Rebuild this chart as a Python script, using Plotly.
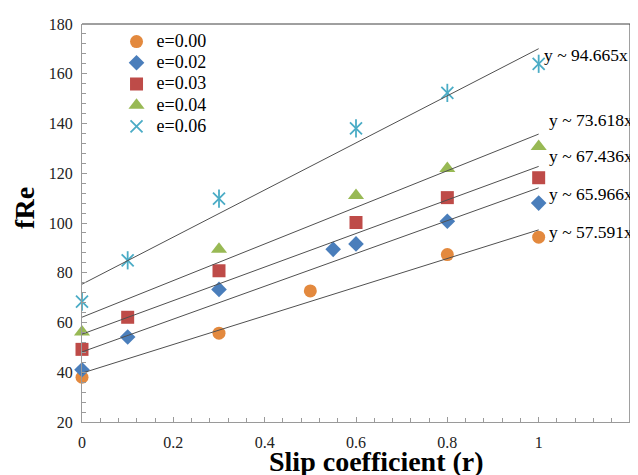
import numpy as np
import plotly.graph_objects as go

# ---- data ----
series_names = ["e=0.00", "e=0.02", "e=0.03", "e=0.04", "e=0.06"]
x_e000 = [0.0, 0.3, 0.5, 0.8, 1.0]
y_e000 = [38.0, 55.7, 72.7, 87.3, 94.3]
x_e002 = [0.0, 0.1, 0.3, 0.55, 0.6, 0.8, 1.0]
y_e002 = [41.0, 54.2, 73.3, 89.4, 91.6, 100.7, 108.0]
x_e003 = [0.0, 0.1, 0.3, 0.6, 0.8, 1.0]
y_e003 = [49.2, 62.1, 80.8, 100.2, 110.2, 118.2]
x_e004 = [0.0, 0.3, 0.6, 0.8, 1.0]
y_e004 = [56.2, 89.4, 111.1, 121.9, 130.8]
x_e006 = [0.0, 0.1, 0.3, 0.6, 0.8, 1.0]
y_e006 = [68.4, 85.0, 109.8, 138.0, 152.3, 164.0]
fit_slopes = [57.591, 65.966, 67.436, 73.618, 94.665]
fit_labels = ["y ~ 57.591x", "y ~ 65.966x", "y ~ 67.436x", "y ~ 73.618x", "y ~ 94.665x"]
x_tick_vals = [0, 0.2, 0.4, 0.6, 0.8, 1.0, 1.2]
x_tick_text = ["0", "0.2", "0.4", "0.6", "0.8", "1", "1.2"]
y_tick_vals = [20, 40, 60, 80, 100, 120, 140, 160, 180]

# ---- styles ----
xs = [x_e000, x_e002, x_e003, x_e004, x_e006]
ys = [y_e000, y_e002, y_e003, y_e004, y_e006]
colors = ["#E3893E", "#4A7EBB", "#BE4B48", "#98B954", "#4BACC6"]
symbols = ["circle", "diamond", "square", "triangle-up", "x-thin-open"]
sizes = [13, 12, 13, 14, 12]
label_xshift = [8, 8, 8, 8, 3]
label_yshift = [-2, -6, 10, 14, -6]
SERIF = "Liberation Serif, Times New Roman, serif"

fig = go.Figure()

for i in range(5):
    mk = dict(color=colors[i], size=sizes[i], symbol=symbols[i])
    if symbols[i].endswith("open"):
        mk["line"] = dict(color=colors[i], width=1.8)
    else:
        mk["line"] = dict(width=0)
    fig.add_trace(go.Scatter(x=xs[i], y=ys[i], mode="markers",
                             name="<span style='font-size:18px'>" + series_names[i] + "</span>",
                             marker=mk, cliponaxis=False))
    if i == 4:
        fig.add_trace(go.Scatter(x=xs[i], y=ys[i], mode="markers", showlegend=False,
                                 marker=dict(color=colors[i], size=13, symbol="line-ns-open",
                                             line=dict(color=colors[i], width=1.8)),
                                 hoverinfo="skip", cliponaxis=False))

# fitted trend lines (slope given, intercept by least squares)
for i in range(5):
    xa = np.array(xs[i]); ya = np.array(ys[i])
    b = ya.mean() - fit_slopes[i] * xa.mean()
    lx = np.array([0.0, 1.0])
    ly = b + fit_slopes[i] * lx
    fig.add_trace(go.Scatter(x=lx, y=ly, mode="lines", showlegend=False,
                             line=dict(color="#505050", width=1), hoverinfo="skip"))
    fig.add_annotation(x=1.0, y=ly[-1], xref="x", yref="y", text=fit_labels[i],
                       showarrow=False, xanchor="left", yanchor="middle",
                       xshift=label_xshift[i], yshift=label_yshift[i],
                       font=dict(family=SERIF, size=17.5, color="black"))

fig.add_annotation(x=-0.104, y=0.538, xref="paper", yref="paper", text="<b>fRe</b>",
                   textangle=-90, showarrow=False, xanchor="center", yanchor="middle",
                   font=dict(family=SERIF, size=28, color="black"))
fig.add_annotation(x=0.538, y=-0.098, xref="paper", yref="paper",
                   text="<b>Slip coefficient (r)</b>", showarrow=False,
                   xanchor="center", yanchor="middle",
                   font=dict(family=SERIF, size=28, color="black"))

# top and right frame
fig.add_shape(type="line", xref="paper", yref="paper", x0=0, x1=1, y0=1, y1=1,
              line=dict(color="#404040", width=1))
fig.add_shape(type="line", xref="paper", yref="paper", x0=1, x1=1, y0=0, y1=1,
              line=dict(color="#404040", width=1))

fig.update_xaxes(range=[0, 1.2], tickvals=x_tick_vals, ticktext=x_tick_text,
                 showgrid=False, zeroline=False, showline=True, linecolor="#9a9a9a",
                 linewidth=1, ticks="inside", ticklen=5, tickcolor="#9a9a9a",
                 minor=dict(dtick=0.04, ticks="inside", ticklen=4, tickcolor="#9a9a9a"),
                 tickfont=dict(family=SERIF, size=16, color="#222"),
                 ticklabelstandoff=6)
fig.update_yaxes(range=[20, 180], tickvals=y_tick_vals,
                 showgrid=False, zeroline=False, showline=True, linecolor="#9a9a9a",
                 linewidth=1, ticks="inside", ticklen=5, tickcolor="#9a9a9a",
                 minor=dict(dtick=4, ticks="inside", ticklen=4, tickcolor="#9a9a9a"),
                 tickfont=dict(family=SERIF, size=16, color="#222"),
                 ticklabelstandoff=5)

# page body has an 8px default margin: compensate so the chart fills the window
fig.update_layout(
    width=630, height=467,
    margin=dict(l=74, r=8, t=11, b=53),
    paper_bgcolor="white", plot_bgcolor="white",
    showlegend=True,
    legend=dict(x=0.063, y=0.995, xanchor="left", yanchor="top",
                bgcolor="rgba(0,0,0,0)", font=dict(family=SERIF, size=14, color="black"),
                tracegroupgap=0, itemsizing="trace"),
)

fig.write_html("out.html")
